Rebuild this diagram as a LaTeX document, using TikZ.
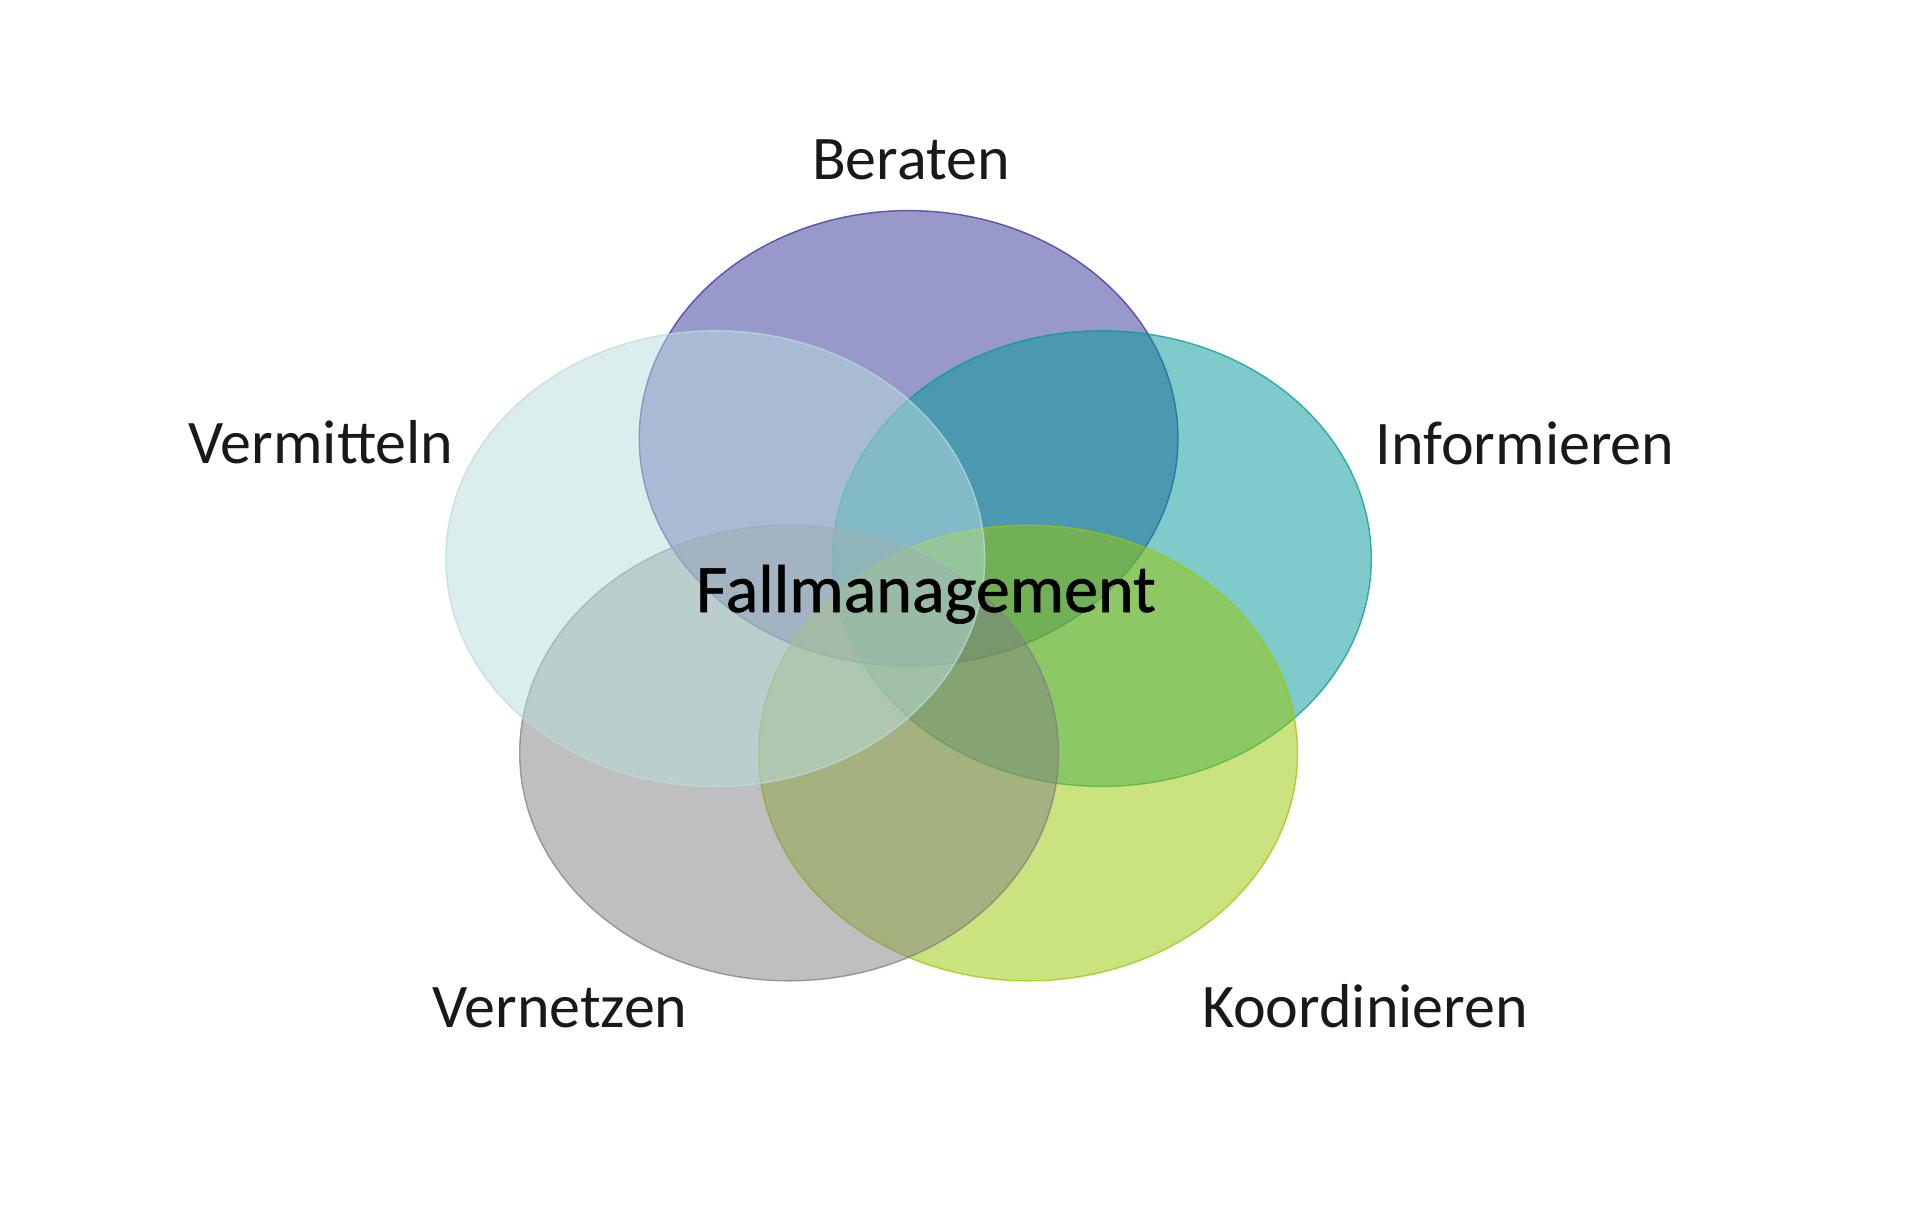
\documentclass[tikz,border=0pt]{standalone}
\usepackage{fontspec}
\setmainfont{Carlito}
\newfontfamily\fallfont{Carlito}[FakeBold=0.8]
\usetikzlibrary{shapes.geometric}
\definecolor{cBer}{RGB}{51,51,153}
\definecolor{cInf}{RGB}{0,153,153}
\definecolor{cKoo}{RGB}{153,201,0}
\definecolor{cVne}{RGB}{128,128,128}
\definecolor{cVmi}{RGB}{185,221,221}
\begin{document}
\begin{tikzpicture}[x=0.5pt,y=-0.5pt,
  venn/.style={ellipse, inner sep=0pt, minimum width=269.4pt, minimum height=227.8pt,
    fill=#1, fill opacity=0.5, draw=#1, draw opacity=0.75, line width=0.7pt},
  lbl/.style={anchor=base, font=\fontsize{31}{36}\selectfont, text=black!90},
  ctr/.style={anchor=base, font=\fallfont\fontsize{34}{40}\selectfont, text=black}]
\useasboundingbox (0,0) rectangle (1920,1220);
\fill[white] (0,0) rectangle (1920,1220);
\node[venn=cBer] (ber) at (908.6,438.4) {};
\node[venn=cInf] (inf) at (1101.9,558.6) {};
\node[venn=cKoo] (koo) at (1028.1,753.0) {};
\node[venn=cVne] (vne) at (789.1,753.0) {};
\node[venn=cVmi] (vmi) at (715.3,558.6) {};
\node[lbl] (tber) at (911,179) {Beraten};
\node[lbl] (tinf) at (1525,464) {Informieren};
\node[lbl] (tvmi) at (321,463) {Vermitteln};
\node[lbl] (tvne) at (560,1027) {Vernetzen};
\node[lbl] (tkoo) at (1365,1027) {Koordinieren};
\node[ctr] (fall) at (926,612) {Fallmanagement};
\end{tikzpicture}
\end{document}
